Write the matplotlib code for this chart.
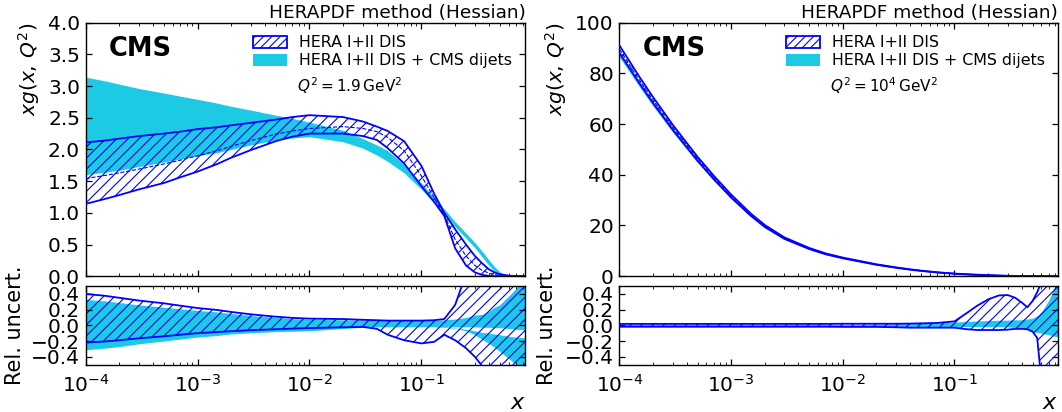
"""
Gluon PDF xg(x, Q^2) with HERAPDF-method (Hessian) uncertainty bands,
HERA I+II DIS vs HERA I+II DIS + CMS dijets, at two Q^2 values.
"""

import matplotlib
matplotlib.use("Agg")
import matplotlib.pyplot as plt
import numpy as np
from matplotlib.patches import Patch

# common x grid
x = [1e-4, 1.5e-4, 2e-4, 3e-4, 5e-4, 7e-4, 1e-3, 1.5e-3, 2e-3, 3e-3, 5e-3, 7e-3,
     1e-2, 2e-2, 3e-2, 4e-2, 5e-2, 7e-2,
     0.1, 0.13, 0.16, 0.2, 0.25, 0.3, 0.35, 0.4, 0.45, 0.5, 0.55, 0.6, 0.7, 0.85]

# ---- Q^2 = 1.9 GeV^2 ----
hera_lo_q1 = [1.14, 1.22, 1.28, 1.37, 1.47, 1.56, 1.65, 1.77, 1.87, 1.99, 2.13, 2.20,
              2.25, 2.25, 2.21, 2.15, 2.02, 1.78,
              1.42, 1.17, 0.95, 0.44, 0.17, 0.06, 0.02, 0.005, 0.0, 0.0, 0.0, 0.0, 0.0, 0.0]
hera_up_q1 = [2.11, 2.14, 2.17, 2.21, 2.25, 2.28, 2.32, 2.35, 2.38, 2.42, 2.47, 2.51,
              2.54, 2.51, 2.44, 2.36, 2.29, 2.13,
              1.74, 1.30, 1.00, 0.74, 0.50, 0.32, 0.20, 0.11, 0.06, 0.03, 0.02, 0.01, 0.0, 0.0]
hera_mid_q1 = [1.54, 1.59, 1.63, 1.69, 1.77, 1.83, 1.90, 1.98, 2.05, 2.14, 2.24, 2.29,
               2.33, 2.36, 2.33, 2.28, 2.19, 1.98,
               1.58, 1.24, 0.97, 0.58, 0.32, 0.17, 0.09, 0.05, 0.025, 0.012, 0.006, 0.003, 0.0, 0.0]
dij_lo_q1 = [1.60, 1.64, 1.67, 1.73, 1.80, 1.85, 1.90, 1.95, 2.00, 2.07, 2.15, 2.18,
             2.20, 2.12, 2.02, 1.91, 1.81, 1.63,
             1.37, 1.16, 0.97, 0.78, 0.60, 0.45, 0.30, 0.17, 0.08, 0.03, 0.01, 0.0, 0.0, 0.0]
dij_up_q1 = [3.14, 3.08, 3.03, 2.96, 2.89, 2.84, 2.79, 2.73, 2.68, 2.62, 2.54, 2.49,
             2.43, 2.30, 2.17, 2.07, 1.98, 1.76,
             1.47, 1.24, 1.06, 0.86, 0.68, 0.53, 0.39, 0.26, 0.15, 0.07, 0.03, 0.01, 0.0, 0.0]

# relative uncertainties
hera_rlo_q1 = [-0.22, -0.205, -0.19, -0.165, -0.14, -0.12, -0.10, -0.085, -0.075, -0.062, -0.05, -0.042,
               -0.035, -0.025, -0.02, -0.045, -0.12, -0.19,
               -0.23, -0.21, -0.12, -0.19, -0.29, -0.40, -0.52, -0.65, -0.8, -1.0, -1.0, -1.0, -1.0, -1.0]
hera_rup_q1 = [0.40, 0.375, 0.35, 0.315, 0.28, 0.25, 0.22, 0.195, 0.17, 0.14, 0.11, 0.095,
               0.085, 0.08, 0.07, 0.065, 0.06, 0.06,
               0.06, 0.065, 0.08, 0.26, 0.65, 1.0, 1.5, 2.0, 2.5, 3.0, 3.5, 4.0, 5.0, 6.0]
dij_rlo_q1 = [-0.31, -0.29, -0.27, -0.235, -0.20, -0.175, -0.15, -0.13, -0.11, -0.095, -0.08, -0.075,
              -0.07, -0.04, -0.025, -0.02, -0.02, -0.02,
              -0.02, -0.02, -0.025, -0.04, -0.07, -0.12, -0.18, -0.23, -0.28, -0.33, -0.38, -0.42, -0.50, -0.60]
dij_rup_q1 = [0.33, 0.31, 0.29, 0.26, 0.23, 0.21, 0.19, 0.17, 0.15, 0.125, 0.10, 0.085,
              0.075, 0.07, 0.066, 0.065, 0.065, 0.065,
              0.065, 0.065, 0.07, 0.08, 0.10, 0.13, 0.14, 0.18, 0.23, 0.26, 0.32, 0.37, 0.47, 0.62]
# white strip inside the dijet band at high x
gap_hi_q1 = [np.nan] * 20 + [-0.02, -0.02, -0.02, -0.02, -0.025, -0.025,
                             -0.03, -0.03, -0.035, -0.04, -0.05, -0.06]
gap_lo_q1 = [np.nan] * 20 + [-0.02, -0.035, -0.05, -0.07, -0.09, -0.10,
                             -0.11, -0.12, -0.13, -0.14, -0.15, -0.16]

# ---- Q^2 = 10^4 GeV^2 ----
hera_lo_q2 = [88.0, 76.2, 68.2, 57.7, 45.5, 38.2, 31.0, 23.8, 19.4, 14.7, 10.7, 8.65,
              7.05, 4.5, 3.32, 2.58, 2.1, 1.46,
              0.96, 0.67, 0.47, 0.31, 0.19, 0.115, 0.07, 0.043, 0.026, 0.015, 0.009, 0.004, 0.0, 0.0]
hera_up_q2 = [91.0, 78.8, 70.6, 59.7, 47.1, 39.6, 32.2, 24.7, 20.2, 15.3, 11.15, 9.0,
              7.35, 4.7, 3.48, 2.72, 2.2, 1.55,
              1.04, 0.78, 0.60, 0.43, 0.28, 0.17, 0.10, 0.06, 0.035, 0.022, 0.015, 0.009, 0.004, 0.001]
hera_mid_q2 = [89.5, 77.5, 69.4, 58.7, 46.3, 38.9, 31.6, 24.2, 19.8, 15.0, 10.9, 8.8,
               7.2, 4.6, 3.4, 2.65, 2.15, 1.5,
               1.0, 0.7, 0.5, 0.33, 0.2, 0.12, 0.075, 0.045, 0.028, 0.017, 0.011, 0.006, 0.002, 0.0]
dij_lo_q2 = [86.4, 74.9, 67.1, 56.8, 44.9, 37.7, 30.7, 23.6, 19.3, 14.6, 10.65, 8.6,
             7.0, 4.48, 3.3, 2.58, 2.08, 1.45,
             0.98, 0.68, 0.49, 0.32, 0.2, 0.12, 0.07, 0.042, 0.025, 0.015, 0.009, 0.005, 0.002, 0.0]
dij_up_q2 = [88.8, 76.9, 68.9, 58.3, 46.0, 38.6, 31.3, 24.0, 19.6, 14.9, 10.85, 8.75,
             7.15, 4.57, 3.38, 2.64, 2.14, 1.5,
             1.02, 0.73, 0.53, 0.35, 0.22, 0.13, 0.08, 0.05, 0.03, 0.019, 0.012, 0.007, 0.003, 0.001]

hera_rlo_q2 = [-0.018] * 12 + [-0.02, -0.02, -0.025, -0.03, -0.03, -0.03,
                               -0.03, -0.05, -0.06, -0.06, -0.06, -0.055, -0.045, -0.045,
                               -0.05, -0.08, -0.16, -0.7, -1.5, -2.0]
hera_rup_q2 = [0.018] * 12 + [0.02, 0.02, 0.02, 0.022, 0.025, 0.03,
                              0.05, 0.16, 0.25, 0.33, 0.38, 0.385, 0.35, 0.29,
                              0.23, 0.31, 0.42, 0.55, 1.0, 1.5]
dij_rlo_q2 = [-0.012] * 12 + [-0.012, -0.012, -0.013, -0.014, -0.015, -0.015,
                              -0.015, -0.015, -0.015, -0.015, -0.018, -0.02, -0.03, -0.04,
                              -0.06, -0.08, -0.09, -0.10, -0.12, -0.15]
dij_rup_q2 = [0.012] * 12 + [0.012, 0.015, 0.018, 0.02, 0.025, 0.03,
                             0.04, 0.05, 0.055, 0.06, 0.065, 0.065, 0.07, 0.07,
                             0.08, 0.09, 0.12, 0.17, 0.32, 0.60]

CYAN = "#1ccbe3"
BLUE = "#0000ff"

plt.rcParams.update({
    "font.family": "DejaVu Sans",
    "mathtext.fontset": "dejavusans",
    "xtick.direction": "in",
    "ytick.direction": "in",
    "xtick.top": True,
    "ytick.right": True,
    "xtick.major.size": 4.5,
    "ytick.major.size": 4.5,
    "xtick.minor.size": 2.5,
    "ytick.minor.size": 2.5,
    "xtick.major.width": 0.9,
    "ytick.major.width": 0.9,
    "xtick.labelsize": 14.5,
    "ytick.labelsize": 14.5,
    "axes.linewidth": 1.0,
    "hatch.linewidth": 0.8,
})


def draw_column(fig, left, width, main, ratio, ylim, yticks, q2_text, ylab_x, rlab_x):
    ax = fig.add_axes([left, 0.3296, width, 0.6155])
    axr = fig.add_axes([left, 0.1150, width, 0.1908], sharex=ax)

    lo, up, mid, dlo, dup = main
    ax.fill_between(x, dlo, dup, color=CYAN, lw=0, zorder=1)
    ax.fill_between(x, lo, up, facecolor="none", edgecolor=BLUE, hatch="///", lw=0, zorder=2)
    ax.plot(x, up, color=BLUE, lw=1.3, zorder=3)
    ax.plot(x, lo, color=BLUE, lw=1.3, zorder=3)
    ax.plot(x, mid, color=BLUE, lw=0.8, ls="--", zorder=3)

    rlo, rup, rdlo, rdup, glo, ghi = ratio
    axr.fill_between(x, rdlo, rdup, color=CYAN, lw=0, zorder=1)
    if glo is not None:
        axr.fill_between(x, glo, ghi, color="white", lw=0, zorder=1.5)
    axr.fill_between(x, rlo, rup, facecolor="none", edgecolor=BLUE, hatch="///", lw=0, zorder=2)
    axr.plot(x, rup, color=BLUE, lw=1.3, zorder=3)
    axr.plot(x, rlo, color=BLUE, lw=1.3, zorder=3)

    ax.set_xscale("log")
    ax.set_xlim(1e-4, 0.85)
    ax.set_ylim(*ylim)
    ax.set_yticks(yticks)
    ax.tick_params(labelbottom=False)
    axr.set_ylim(-0.5, 0.5)
    axr.set_yticks([-0.4, -0.2, 0.0, 0.2, 0.4])
    axr.tick_params(axis="x", which="major", pad=7)
    ax.tick_params(axis="y", pad=4)
    axr.tick_params(axis="y", pad=4)

    ax.set_ylabel(r"$xg(x,\,Q^2)$", fontsize=14.5, loc="top")
    ax.yaxis.set_label_coords(ylab_x, 1.0)
    axr.set_ylabel("Rel. uncert.", fontsize=15)
    axr.yaxis.set_label_coords(rlab_x, 0.5)
    axr.set_xlabel(r"$x$", fontsize=16, loc="right")
    axr.xaxis.set_label_coords(1.0, -0.36)

    ax.set_title("HERAPDF method (Hessian)", loc="right", fontsize=13.3, pad=3)
    ax.text(0.052, 0.868, "CMS", transform=ax.transAxes, fontsize=18.5,
            fontweight="bold", va="baseline")

    handles = [
        Patch(facecolor="white", edgecolor=BLUE, hatch="////", lw=1.3, label="HERA I+II DIS"),
        Patch(facecolor=CYAN, edgecolor="none", label="HERA I+II DIS + CMS dijets"),
    ]
    ax.legend(handles=handles, loc="upper left", bbox_to_anchor=(0.38, 0.95),
              frameon=False, fontsize=11.4, borderpad=0, borderaxespad=0,
              handlelength=2.15, handleheight=0.85, handletextpad=0.75,
              labelspacing=0.2)
    ax.text(0.48, 0.726, q2_text, transform=ax.transAxes, fontsize=11, va="baseline")


fig = plt.figure(figsize=(10.62, 4.12), dpi=100)

draw_column(fig, 0.0806, 0.4142,
            (hera_lo_q1, hera_up_q1, hera_mid_q1, dij_lo_q1, dij_up_q1),
            (hera_rlo_q1, hera_rup_q1, dij_rlo_q1, dij_rup_q1, gap_lo_q1, gap_hi_q1),
            (0, 4.0), [0, 0.5, 1.0, 1.5, 2.0, 2.5, 3.0, 3.5, 4.0],
            r"$Q^2 = 1.9\,\mathrm{GeV}^2$", -0.098, -0.137)

draw_column(fig, 0.5833, 0.4132,
            (hera_lo_q2, hera_up_q2, hera_mid_q2, dij_lo_q2, dij_up_q2),
            (hera_rlo_q2, hera_rup_q2, dij_rlo_q2, dij_rup_q2, None, None),
            (0, 100), [0, 20, 40, 60, 80, 100],
            r"$Q^2 = 10^4\,\mathrm{GeV}^2$", -0.115, -0.143)

fig.savefig("out.png", dpi=100)
